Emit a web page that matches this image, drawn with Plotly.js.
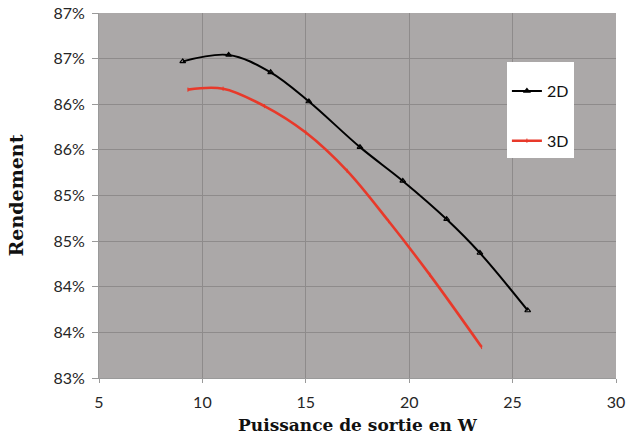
<!DOCTYPE html>
<html>
<head>
<meta charset="utf-8">
<script src="https://cdn.plot.ly/plotly-3.0.1.min.js"></script>
<style>html,body{margin:0;padding:0;background:#fff;}#chart{width:627px;height:437px;}</style>
</head>
<body>
<div id="chart"></div>
<script>
// Series 2D (black, triangle markers)
const x2D = [9.05, 11.27, 13.30, 15.15, 17.62, 19.69, 21.81, 23.42, 25.73];
const y2D = [86.47, 86.54, 86.35, 86.03, 85.53, 85.16, 84.74, 84.37, 83.74];
// Series 3D (red)
const x3D = [9.3, 11.0, 13.0, 15.0, 17.0, 19.0, 21.0, 23.5];
const y3D = [86.16, 86.17, 85.98, 85.69, 85.27, 84.72, 84.13, 83.34];
// Axis ticks (labels rounded to whole percent, as in the original)
const yTickVals = [83, 83.5, 84, 84.5, 85, 85.5, 86, 86.5, 87];
const yTickText = ["83%", "84%", "84%", "85%", "85%", "86%", "86%", "87%", "87%"];
const xTickVals = [5, 10, 15, 20, 25, 30];

const traces = [
  {
    x: x2D, y: y2D, name: "2D", legendgroup: "a",
    type: "scatter", mode: "lines+markers",
    line: {color: "#000000", width: 2, shape: "spline", smoothing: 1},
    marker: {symbol: "triangle-up-open", size: 5, color: "#000000", line: {width: 1.2, color: "#000000"}}
  },
  {
    x: x3D, y: y3D, name: "3D", legendgroup: "b",
    type: "scatter", mode: "lines+markers",
    line: {color: "#e8392a", width: 2.6, shape: "spline", smoothing: 1},
    marker: {symbol: "line-ns-open", size: 3, color: "#e8392a", line: {width: 1, color: "#e8392a"}}
  }
];

const tickFont = {family: "Lato, 'Open Sans', sans-serif", size: 16, color: "#262626"};
const xTitleFont = {family: "'DejaVu Serif', serif", size: 17, color: "#111111", weight: "bold"};
const yTitleFont = {family: "'DejaVu Serif', serif", size: 19, color: "#111111", weight: "bold"};

const layout = {
  width: 627, height: 437,
  margin: {l: 99, r: 11, t: 13, b: 59},
  paper_bgcolor: "#ffffff",
  plot_bgcolor: "#aba8a8",
  showlegend: true,
  legend: {
    x: 0.789, y: 0.865, xanchor: "left", yanchor: "top",
    bgcolor: "#ffffff", borderwidth: 0,
    font: {family: "Lato, 'Open Sans', sans-serif", size: 16, color: "#111111"},
    title: {text: " ", font: {size: 9}},
    traceorder: "grouped", tracegroupgap: 26,
    itemwidth: 30, entrywidth: 72
  },
  xaxis: {
    range: [5, 30], tickvals: xTickVals,
    showgrid: true, gridcolor: "#8e8b8b", gridwidth: 1,
    zeroline: false, showline: true, linecolor: "#9a9a9a", linewidth: 1,
    ticks: "outside", ticklen: 4, tickcolor: "#9a9a9a",
    ticklabelstandoff: 6,
    tickfont: tickFont,
    title: {text: "Puissance de sortie en W", font: xTitleFont, standoff: 8}
  },
  yaxis: {
    range: [83, 87], tickvals: yTickVals, ticktext: yTickText,
    showgrid: true, gridcolor: "#8e8b8b", gridwidth: 1,
    zeroline: false, showline: true, linecolor: "#9a9a9a", linewidth: 1,
    ticks: "outside", ticklen: 6, tickcolor: "#9a9a9a",
    ticklabelstandoff: 4,
    tickfont: tickFont,
    title: {text: "Rendement", font: yTitleFont, standoff: 24}
  }
};

Plotly.newPlot("chart", traces, layout, {displayModeBar: false, staticPlot: true});
</script>
</body>
</html>
